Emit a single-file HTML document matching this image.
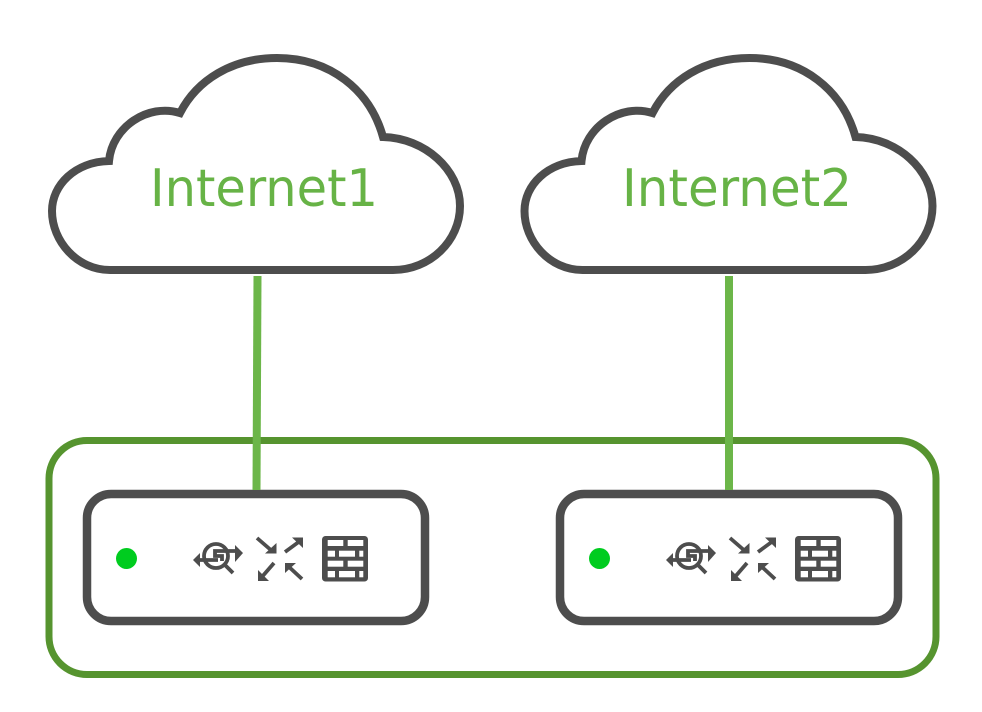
<!DOCTYPE html>
<html>
<head>
<meta charset="utf-8">
<style>
html,body{margin:0;padding:0;background:#fff;width:982px;height:712px;overflow:hidden}
svg{display:block}
text{font-family:"DejaVu Sans","Liberation Sans",sans-serif;fill:#67b346;font-size:52px}
</style>
</head>
<body>
<svg width="982" height="712" viewBox="0 0 982 712" xmlns="http://www.w3.org/2000/svg">
<defs>
<g id="cloud">
<path d="M109 161 C112 127 148 103 180 113 C197 80 232 58 277 58 C330 58 370 90 383 137 C425 138 460 170 460 206 C460 241 430 270 393 270 L110 270 C77 270 52 241 52 211 C52 185 75 162 109 161 Z" fill="#fff" stroke="#4d4d4d" stroke-width="8" stroke-linejoin="miter"/>
</g>
<g id="device">
<rect x="87" y="494" width="338" height="127" rx="24" ry="24" fill="#fff" stroke="#4d4d4d" stroke-width="8.500"/>
<circle cx="126.500" cy="558.500" r="10.500" fill="#00cc1f"/>
<g fill="none" stroke="#4d4d4d" stroke-width="3.800">
<circle cx="216" cy="556" r="12"/>
<path d="M225 565L233 573"/>
<path d="M198 560H218"/>
<path d="M236 551H215V556H222V561"/>
</g>
<path d="M193 560L200 553V567Z" fill="#4d4d4d"/>
<path d="M243 553L235 545V562Z" fill="#4d4d4d"/>
<g stroke="#4d4d4d" stroke-width="3.800" fill="none">
<path d="M257 538L272 551"/>
<path d="M285 552L300 541"/>
<path d="M274 563L261 578"/>
<path d="M302 579L288 566"/>
</g>
<g fill="#4d4d4d">
<path d="M276.500 543V553.500H265Z"/>
<path d="M292 537.500H303V548Z"/>
<path d="M258 570V581H269Z"/>
<path d="M285 573V563H296Z"/>
</g>
<rect x="322" y="536" width="46" height="45.500" rx="3.500" fill="#4d4d4d"/>
<g fill="#fff">
<rect x="327.700" y="540" width="15.600" height="6"/>
<rect x="347.700" y="540" width="15.600" height="6"/>
<rect x="327.700" y="550.700" width="7.300" height="6"/>
<rect x="339" y="550.700" width="16" height="6"/>
<rect x="359.300" y="550.700" width="4" height="6"/>
<rect x="327.700" y="560.700" width="15.600" height="6"/>
<rect x="347.700" y="560.700" width="15.600" height="6"/>
<rect x="327.700" y="571" width="7.300" height="6.300"/>
<rect x="339" y="571" width="16" height="6.300"/>
<rect x="359.300" y="571" width="4" height="6.300"/>
</g>
</g>
</defs>

<rect x="49" y="440.500" width="887" height="234" rx="38" ry="38" fill="none" stroke="#56942f" stroke-width="7"/>

<use href="#cloud"/>
<use href="#cloud" x="472.500"/>

<text x="150" y="206" textLength="228" lengthAdjust="spacingAndGlyphs">Internet1</text>
<text x="622" y="206" textLength="230" lengthAdjust="spacingAndGlyphs">Internet2</text>

<use href="#device"/>
<use href="#device" x="473"/>

<path d="M257.500 276L256.500 490" stroke="#6cb649" stroke-width="8" fill="none"/>
<path d="M729 276V490" stroke="#6cb649" stroke-width="8" fill="none"/>
</svg>
</body>
</html>
